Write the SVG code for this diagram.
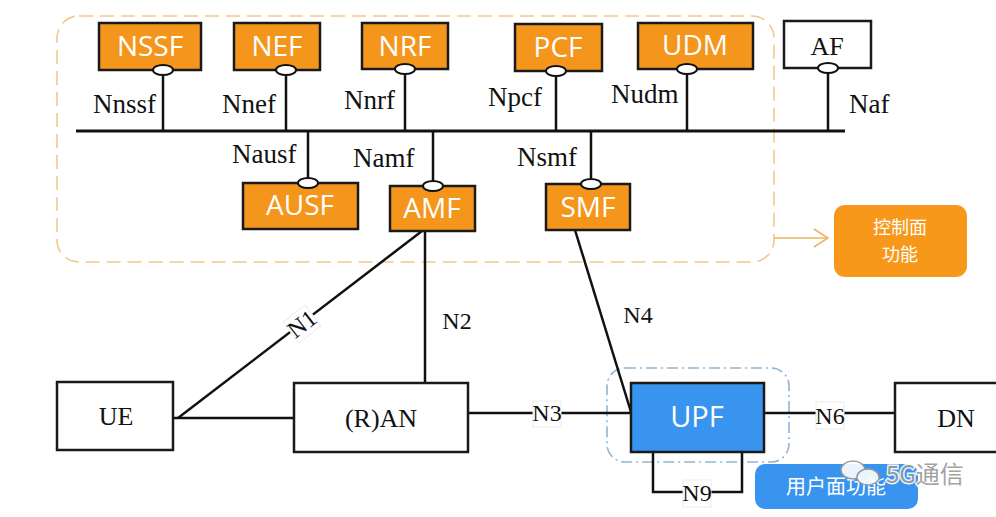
<svg xmlns="http://www.w3.org/2000/svg" width="996" height="517" viewBox="0 0 996 517">
<defs>
<style>
.nf rect{fill:#F5961C;stroke:#1a1a1a;stroke-width:2.5}
.nf text{font-family:"Open Sans","Liberation Sans",sans-serif;font-size:28px;fill:#fff;text-anchor:middle}
.wb rect{fill:#fff;stroke:#1a1a1a;stroke-width:2.5}
.wb text{font-family:"Liberation Serif",serif;font-size:26px;fill:#111;text-anchor:middle}
.lbl{font-family:"Liberation Serif",serif;font-size:27px;fill:#111}
.ln{stroke:#111;stroke-width:2.5;fill:none}
.bus{stroke:#111;stroke-width:3;fill:none}
.ov{fill:#fff;stroke:#111;stroke-width:2}
.tag{font-family:"Liberation Serif",serif;font-size:24px;fill:#111;text-anchor:middle}
.tagbg{fill:#fff;stroke:#ececec;stroke-width:1}
.cjk{font-family:"Noto Sans CJK SC","Noto Sans",sans-serif;fill:#fff;text-anchor:middle}
</style>
<marker id="chev" viewBox="0 0 16 20" refX="15" refY="10" markerWidth="16" markerHeight="20" markerUnits="userSpaceOnUse" orient="auto">
<polyline points="1,1 15,10 1,19" fill="none" stroke="#F0B35E" stroke-width="1.6"/>
</marker>
</defs>
<rect width="996" height="517" fill="#fff"/>

<!-- control plane container -->
<g id="cp-group">
<rect x="57" y="16" width="717" height="246" rx="22" fill="none" stroke="#F2C88E" stroke-width="1.6" stroke-dasharray="14 7"/>
</g>

<!-- user plane container -->
<g id="up-group">
<rect x="607" y="368" width="182" height="94" rx="18" fill="none" stroke="#8FB5D8" stroke-width="1.6" stroke-dasharray="11 4 2 4"/>
</g>

<g id="connectors">
<line class="bus" x1="76" y1="131" x2="845" y2="131"/>
<line class="ln" x1="163" y1="75" x2="163" y2="131"/>
<line class="ln" x1="286" y1="75" x2="286" y2="131"/>
<line class="ln" x1="405" y1="74" x2="405" y2="131"/>
<line class="ln" x1="556" y1="76" x2="556" y2="131"/>
<line class="ln" x1="687" y1="74" x2="687" y2="131"/>
<line class="ln" x1="828" y1="73" x2="828" y2="131"/>
<line class="ln" x1="308" y1="131" x2="308" y2="178"/>
<line class="ln" x1="433" y1="131" x2="433" y2="181"/>
<line class="ln" x1="591" y1="131" x2="591" y2="179"/>
<!-- N1 -->
<line class="ln" x1="422" y1="231" x2="178" y2="418"/>
<!-- UE - RAN -->
<line class="ln" x1="173" y1="418" x2="294" y2="418"/>
<!-- N2 -->
<line class="ln" x1="425" y1="231" x2="425" y2="383"/>
<!-- N3 -->
<line class="ln" x1="468" y1="413" x2="631" y2="413"/>
<!-- N4 -->
<line class="ln" x1="575" y1="230" x2="631" y2="412"/>
<!-- N6 -->
<line class="ln" x1="764" y1="413" x2="895" y2="413"/>
<!-- N9 -->
<polyline class="ln" points="653,452 653,492 742,492 742,452"/>
<!-- arrow to control plane label -->
<line x1="774" y1="238" x2="828" y2="238" stroke="#F0B35E" stroke-width="1.6" marker-end="url(#chev)"/>

<!-- interface labels -->
<text class="lbl" x="93" y="113">Nnssf</text>
<text class="lbl" x="222" y="113">Nnef</text>
<text class="lbl" x="344" y="109">Nnrf</text>
<text class="lbl" x="488" y="106">Npcf</text>
<text class="lbl" x="611" y="103">Nudm</text>
<text class="lbl" x="849" y="113">Naf</text>
<text class="lbl" x="232" y="163">Nausf</text>
<text class="lbl" x="353" y="167">Namf</text>
<text class="lbl" x="517" y="166">Nsmf</text>
<text class="tag" x="457" y="329">N2</text>
<text class="tag" x="638" y="323">N4</text>

<g transform="translate(302,324) rotate(-37.5)">
<rect class="tagbg" x="-14" y="-13" width="28" height="26"/>
<text class="tag" x="0" y="8">N1</text>
</g>
<rect class="tagbg" x="533" y="401" width="28" height="26"/>
<text class="tag" x="547" y="421">N3</text>
<rect class="tagbg" x="816" y="402" width="28" height="27"/>
<text class="tag" x="830" y="424">N6</text>
<rect class="tagbg" x="683" y="480" width="28" height="27"/>
<text class="tag" x="697" y="501">N9</text>
</g>

<g id="NSSF" class="nf"><rect x="99" y="23" width="102" height="47"/><text x="150" y="56">NSSF</text><ellipse class="ov" cx="163" cy="70" rx="10" ry="5"/></g>
<g id="NEF" class="nf"><rect x="234" y="23" width="86" height="47"/><text x="277" y="56">NEF</text><ellipse class="ov" cx="286" cy="70" rx="10" ry="5"/></g>
<g id="NRF" class="nf"><rect x="362" y="23" width="86" height="46"/><text x="405" y="56">NRF</text><ellipse class="ov" cx="405" cy="69" rx="10" ry="5"/></g>
<g id="PCF" class="nf"><rect x="515" y="24" width="87" height="47"/><text x="558" y="57">PCF</text><ellipse class="ov" cx="556" cy="71" rx="10" ry="5"/></g>
<g id="UDM" class="nf"><rect x="638" y="23" width="115" height="46"/><text x="695" y="55">UDM</text><ellipse class="ov" cx="687" cy="69" rx="10" ry="5"/></g>
<g id="AF" class="wb"><rect x="784" y="21" width="87" height="47"/><text x="827" y="55">AF</text><ellipse class="ov" cx="828" cy="68" rx="10" ry="5"/></g>

<g id="AUSF" class="nf"><rect x="243" y="183" width="115" height="46"/><text x="300" y="215">AUSF</text><ellipse class="ov" cx="308" cy="183" rx="10" ry="5"/></g>
<g id="AMF" class="nf"><rect x="390" y="186" width="85" height="45"/><text x="432" y="218">AMF</text><ellipse class="ov" cx="433" cy="186" rx="10" ry="5"/></g>
<g id="SMF" class="nf"><rect x="546" y="184" width="84" height="46"/><text x="588" y="217">SMF</text><ellipse class="ov" cx="591" cy="184" rx="10" ry="5"/></g>

<g id="CP-label"><rect x="834" y="205" width="133" height="72" rx="11" fill="#F7981A"/><text class="cjk" x="900" y="234" font-size="18">控制面</text><text class="cjk" x="900" y="261" font-size="18">功能</text></g>

<g id="UE" class="wb"><rect x="57" y="382" width="116" height="68"/><text x="116" y="425">UE</text></g>
<g id="RAN" class="wb"><rect x="294" y="383" width="174" height="69"/><text x="381" y="427">(R)AN</text></g>
<g id="UPF"><rect x="631" y="383" width="133" height="69" fill="#3894EE" stroke="#1a1a1a" stroke-width="2.5"/><text x="697" y="427" font-family="Open Sans, Liberation Sans, sans-serif" font-size="29" fill="#fff" text-anchor="middle">UPF</text></g>
<g id="DN" class="wb"><rect x="895" y="383" width="110" height="69"/><text x="956" y="427">DN</text></g>

<g id="UP-label"><rect x="755" y="464" width="163" height="45" rx="10" fill="#3894EE"/><text class="cjk" x="836" y="494" font-size="20">用户面功能</text></g>

<g id="watermark" opacity="0.9">
<ellipse cx="853" cy="470" rx="12" ry="9" fill="#fff" stroke="#9a9a9a" stroke-width="1.5"/>
<ellipse cx="868" cy="477" rx="11" ry="8" fill="#fff" stroke="#9a9a9a" stroke-width="1.5"/>
<text x="886" y="483" font-family="Noto Sans CJK SC, Noto Sans, sans-serif" font-size="24" fill="#9a9a9a" stroke="#fff" stroke-width="3" paint-order="stroke">5G通信</text>
</g>
</svg>
